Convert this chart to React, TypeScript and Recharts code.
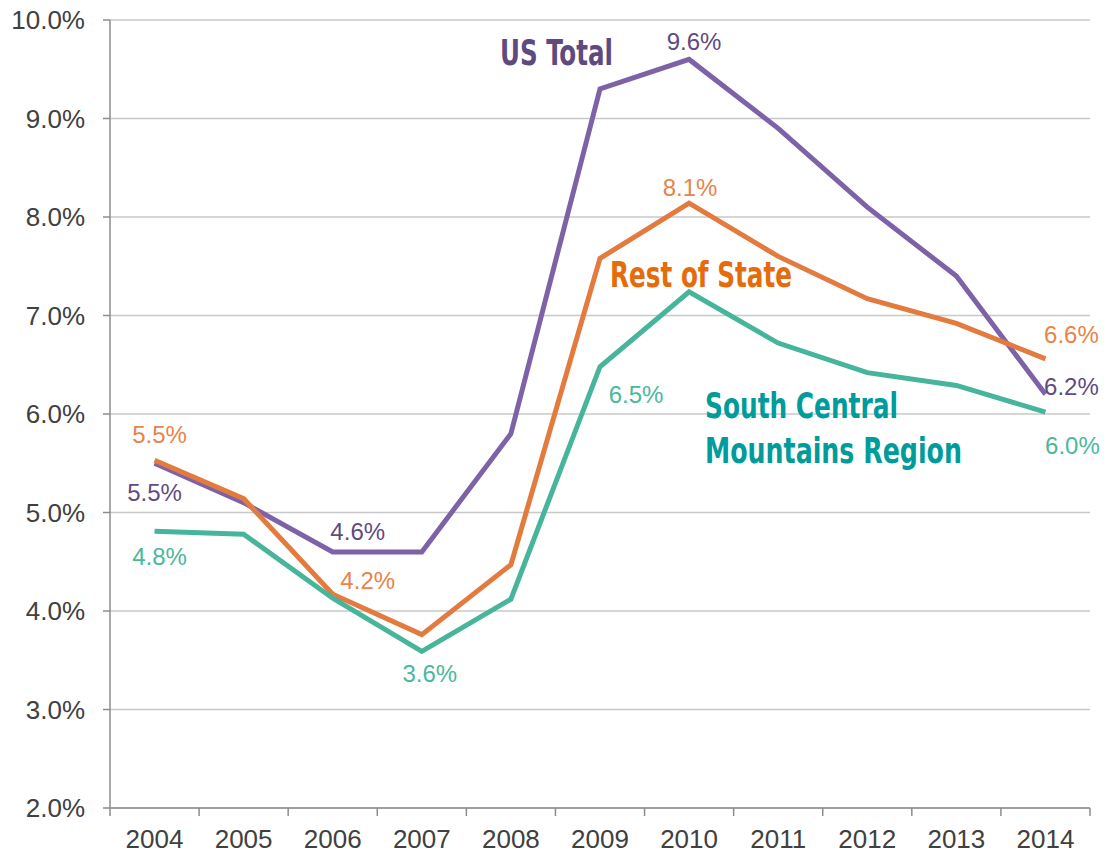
import React from "react";
import { LineChart, Line, XAxis, YAxis, CartesianGrid, LabelList } from "recharts";

const years = ["2004", "2005", "2006", "2007", "2008", "2009", "2010", "2011", "2012", "2013", "2014"];
const usTotal = [5.5, 5.1, 4.6, 4.6, 5.8, 9.3, 9.6, 8.9, 8.1, 7.4, 6.2];
const restOfState = [5.53, 5.14, 4.17, 3.76, 4.47, 7.58, 8.14, 7.6, 7.17, 6.92, 6.56];
const southCentral = [4.81, 4.78, 4.13, 3.59, 4.12, 6.48, 7.24, 6.72, 6.42, 6.29, 6.02];
const yTicks = [2, 3, 4, 5, 6, 7, 8, 9, 10];

const data = years.map((year, i) => ({
  year,
  us: usTotal[i],
  rest: restOfState[i],
  south: southCentral[i],
}));

const W = 1105;
const H = 854;
const M = { top: 20, right: 15, left: 0, bottom: 0 };
const Y_AXIS_W = 110;
const X_AXIS_H = 46;
const BAND = (W - M.left - M.right - Y_AXIS_W) / years.length;

const AXIS = "#8c8c8c";
const GRID = "#c8c8c8";
const TEXT = "#404040";
const FONT = "'Liberation Sans', Arial, sans-serif";
const NAME_FONT = "'Liberation Sans Narrow', 'DejaVu Sans Condensed', 'Liberation Sans', sans-serif";

// label offsets (dx, dy) from the point, keyed by year
const usLabels: Record<string, [number, number]> = {
  "2004": [0, 29],
  "2006": [25, -20],
  "2010": [5, -18],
  "2014": [26, -8],
};
const restLabels: Record<string, [number, number]> = {
  "2004": [5, -26],
  "2006": [35, -14],
  "2010": [1, -16],
  "2014": [26, -24],
};
const southLabels: Record<string, [number, number]> = {
  "2004": [5, 25],
  "2007": [8, 22],
  "2009": [36, 28],
  "2014": [27, 33],
};

function makeLabel(color: string, offsets: Record<string, [number, number]>) {
  return (props: any) => {
    const { x, y, value, index } = props;
    const off = offsets[years[index]];
    if (!off || value == null) return null;
    return (
      <text
        x={x + off[0]}
        y={y + off[1]}
        fill={color}
        fontSize={24}
        fontFamily={FONT}
        textAnchor="middle"
        dominantBaseline="central"
      >
        {Number(value).toFixed(1)}%
      </text>
    );
  };
}

function XTick(props: any) {
  const { x, y, payload, index } = props;
  const last = index === years.length - 1;
  return (
    <g>
      <line x1={x - BAND / 2} x2={x - BAND / 2} y1={y} y2={y + 8} stroke={AXIS} strokeWidth={1.5} />
      {last && <line x1={x + BAND / 2} x2={x + BAND / 2} y1={y} y2={y + 8} stroke={AXIS} strokeWidth={1.5} />}
      <text x={x} y={y + 40} textAnchor="middle" fill={TEXT} fontSize={26} fontFamily={FONT}>
        {payload.value}
      </text>
    </g>
  );
}

export default function App() {
  return (
    <div style={{ position: "absolute", left: 0, top: 0, width: W, height: H, background: "#fff" }}>
      <LineChart width={W} height={H} data={data} margin={M}>
        <CartesianGrid vertical={false} stroke={GRID} strokeWidth={1.5} />
        <XAxis
          dataKey="year"
          height={X_AXIS_H}
          padding={{ left: BAND / 2, right: BAND / 2 }}
          axisLine={{ stroke: AXIS, strokeWidth: 1.5 }}
          tickLine={false}
          tickSize={0}
          tickMargin={0}
          interval={0}
          tick={<XTick />}
        />
        <YAxis
          width={Y_AXIS_W}
          domain={[2, 10]}
          ticks={yTicks}
          interval={0}
          axisLine={{ stroke: AXIS, strokeWidth: 1.5 }}
          tickLine={{ stroke: AXIS, strokeWidth: 1.5 }}
          tickSize={7}
          tickMargin={18}
          tick={{ fill: TEXT, fontSize: 26, fontFamily: FONT }}
          tickFormatter={(v: number) => `${v.toFixed(1)}%`}
        />
        <Line dataKey="us" stroke="#7e62a8" strokeWidth={5} dot={false} isAnimationActive={false}>
          <LabelList dataKey="us" content={makeLabel("#5f4b82", usLabels)} />
        </Line>
        <Line dataKey="rest" stroke="#e27b3d" strokeWidth={5} dot={false} isAnimationActive={false}>
          <LabelList dataKey="rest" content={makeLabel("#e8844a", restLabels)} />
        </Line>
        <Line dataKey="south" stroke="#47b59c" strokeWidth={5} dot={false} isAnimationActive={false}>
          <LabelList dataKey="south" content={makeLabel("#4ab89d", southLabels)} />
        </Line>
      </LineChart>
      <svg
        width={W}
        height={H}
        style={{ position: "absolute", left: 0, top: 0, pointerEvents: "none" }}
      >
        <g fontFamily={NAME_FONT} fontWeight="bold" fontSize={35}>
          <text x={500} y={65} fill="#5e4a7e" textLength={113} lengthAdjust="spacingAndGlyphs">US Total</text>
          <text x={610} y={287} fill="#e46c0a" textLength={182} lengthAdjust="spacingAndGlyphs">Rest of State</text>
          <text x={705} y={418} fill="#009b9b" textLength={193} lengthAdjust="spacingAndGlyphs">South Central</text>
          <text x={705} y={463} fill="#009b9b" textLength={257} lengthAdjust="spacingAndGlyphs">Mountains Region</text>
        </g>
      </svg>
    </div>
  );
}
